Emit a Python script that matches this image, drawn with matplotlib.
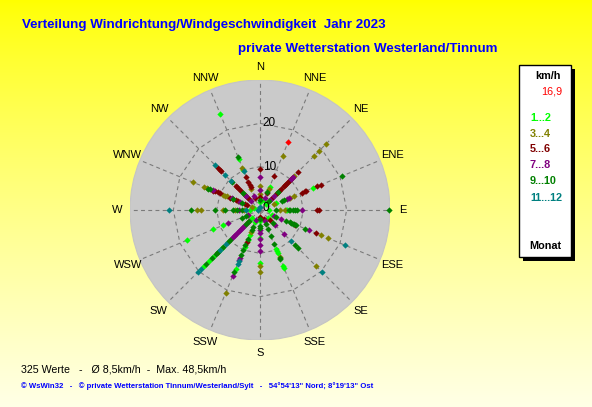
import numpy as np
import matplotlib
matplotlib.use("Agg")
import matplotlib.pyplot as plt
from matplotlib.patches import Circle, Rectangle

# ---------------- data ----------------
directions = ['N', 'NNE', 'NE', 'ENE', 'E', 'ESE', 'SE', 'SSE',
              'S', 'SSW', 'SW', 'WSW', 'W', 'WNW', 'NW', 'NNW']
ring_values = [10, 20]
ring_labels = ['0', '10', '20']
month_groups = ['1...2', '3...4', '5...6', '7...8', '9...10', '11...12']
group_colors = ['#00FF00', '#808000', '#800000', '#800080', '#008000', '#008080']

# wind speeds (km/h) per direction, per month group
speeds_1_2 = {'N': [1.8], 'NNE': [5.8, 2.5], 'NE': [5.3, 2.0], 'ENE': [13.3, 4.0],
              'E': [6.3, 6.0, 2.0], 'ESE': [3.0], 'SE': [2.5],
              'SSE': [14.6, 14.1, 10.8, 10.3, 9.8], 'S': [12.2, 6.5, 2.5],
              'SSW': [14.7, 9.3, 7.5, 6.2, 3.0],
              'SW': [18.4, 16.6, 15.2, 13.6, 12.4, 2.5], 'WSW': [18.2, 11.7, 9.3],
              'W': [2.3], 'WNW': [1.5], 'NW': [5.3], 'NNW': [24.0, 12.8, 10.0]}
speeds_3_4 = {'N': [5.5, 3.7], 'NNE': [13.6, 5.2], 'NE': [21.6, 19.2, 17.6, 11.0, 8.0],
              'ENE': [8.5, 7.5, 3.5], 'E': [5.7, 4.5], 'ESE': [17.1, 15.2], 'SE': [18.3],
              'SSE': [11.8], 'S': [14.2, 13.0], 'SSW': [20.8, 5.5], 'SW': [14.1],
              'WSW': [3.0], 'W': [14.6, 13.6, 8.6, 5.8, 3.8],
              'WNW': [16.7, 14.0, 13.3, 9.2, 8.7, 8.3, 2.0], 'NW': [], 'NNW': [10.6, 5.2]}
speeds_5_6 = {'N': [9.4, 3.0], 'NNE': [8.4, 4.2],
              'NE': [12.5, 10.3, 9.8, 9.2, 8.7, 8.2, 7.7, 7.0, 6.3, 5.5, 4.0],
              'ENE': [15.2, 14.2, 11.6, 11.2, 10.5], 'E': [13.2, 13.5], 'ESE': [14.1, 8.8],
              'SE': [3.2], 'SSE': [2.2], 'S': [1.5], 'SSW': [8.0], 'SW': [4.0],
              'WSW': [], 'W': [],
              'WNW': [11.7, 11.2, 10.6, 10.0, 7.5, 6.8, 6.0, 5.5, 3.8, 3.2],
              'NW': [13.6, 13.1, 12.7, 7.9, 7.4, 6.8, 6.1, 5.0, 4.4, 3.6],
              'NNW': [8.2, 7.1, 6.3, 5.7, 2.9]}
speeds_7_8 = {'N': [7.7, 4.6], 'NNE': [3.1], 'NE': [10.8, 10.0, 4.5, 3.2], 'ENE': [6.8, 7.2],
              'E': [9.6], 'ESE': [12.3, 5.2, 3.5], 'SE': [7.8, 5.0], 'SSE': [2.8],
              'S': [9.5, 8.0, 6.8, 5.3, 4.5], 'SSW': [16.4, 12.6, 11.9, 2.5],
              'SW': [9.0, 8.5, 8.0, 7.5, 7.0, 6.5, 6.0, 5.5, 5.0], 'WSW': [7.9, 2.9],
              'W': [4.8], 'WNW': [11.8, 7.0, 5.0], 'NW': [4.6, 2.8], 'NNW': [3.5]}
speeds_9_10 = {'N': [2.2], 'NNE': [4.5], 'NE': [6.0, 3.0], 'ENE': [20.5, 6.0, 5.6],
               'E': [29.8, 8.5, 8.0, 7.5, 7.0, 6.6, 3.8],
               'ESE': [11.2, 9.1, 8.6, 8.3, 7.8, 7.4, 6.6, 4.0], 'SE': [12.5, 11.4, 4.3],
               'SSE': [12.3, 12.0, 8.6, 6.5, 4.8, 3.6], 'S': [4.2, 3.8, 2.0],
               'SSW': [15.5, 11.2, 10.0, 8.8, 7.3, 5.0, 4.2],
               'SW': [17.5, 15.8, 14.5, 13.8, 12.0, 10.4, 9.8, 4.5, 3.5], 'WSW': [4.6, 3.6],
               'W': [15.9, 10.3, 8.0, 6.2, 5.3, 4.2], 'WNW': [12.9, 12.4, 6.7, 4.5],
               'NW': [9.0, 5.5], 'NNW': [13.2]}
speeds_11_12 = {'N': [0.8], 'NNE': [], 'NE': [], 'ENE': [], 'E': [], 'ESE': [21.2],
                'SE': [20.1, 10.1], 'SSE': [], 'S': [], 'SSW': [13.5, 12.8],
                'SW': [20.3, 19.3, 13.0, 11.2], 'WSW': [], 'W': [21.0, 3.3, 0.5],
                'WNW': [], 'NW': [14.6, 11.3, 9.4], 'NNW': [9.8]}
current_direction = 'NNE'
current_speed = 16.9

title_text = 'Verteilung Windrichtung/Windgeschwindigkeit  Jahr 2023'
subtitle_text = 'private Wetterstation Westerland/Tinnum'
stats_text = '325 Werte   -   Ø 8,5km/h  -  Max. 48,5km/h'
footer_text = ('© WsWin32   -   © private Wetterstation Tinnum/Westerland/Sylt   -   '
               '54°54\'13" Nord; 8°19\'13" Ost')

all_groups = [speeds_1_2, speeds_3_4, speeds_5_6, speeds_7_8, speeds_9_10, speeds_11_12]

# ---------------- figure ----------------
W, H = 592, 407
fig = plt.figure(figsize=(W / 100, H / 100), dpi=100)
plt.rcParams['font.family'] = ['Liberation Sans', 'DejaVu Sans']

# background gradient (pixel coordinates)
bg = fig.add_axes([0, 0, 1, 1])
t = np.linspace(0, 1, 256)[:, None]
blue = 0 + 230 * t ** 0.8
grad = np.dstack([np.ones_like(t) * 255, np.ones_like(t) * 255, blue]) / 255.0
bg.imshow(grad, aspect='auto', extent=[0, W, H, 0], interpolation='bilinear')
bg.set_xlim(0, W)
bg.set_ylim(H, 0)
bg.axis('off')

blue_c = '#0000FF'
bg.text(22, 25, title_text, color=blue_c, fontsize=9.6, fontweight='bold', va='center', ha='left')
bg.text(238, 49, subtitle_text, color=blue_c, fontsize=9.6, fontweight='bold', va='center', ha='left')
bg.text(21, 369, stats_text, color='black', fontsize=7.7, va='center', ha='left')
bg.text(21, 386, footer_text, color=blue_c, fontsize=5.6, fontweight='bold', va='center', ha='left')

# legend box
bg.add_patch(Rectangle((523, 69), 52, 192, facecolor='black', edgecolor='none'))
bg.add_patch(Rectangle((519, 65), 52, 192, facecolor='white', edgecolor='black', lw=1))
bg.text(548, 76, 'km/h', color='black', fontsize=7.8, fontweight='bold', ha='center', va='center')
bg.text(562, 92, f'{current_speed:.1f}'.replace('.', ','), color='#FF0000', fontsize=7.8,
        ha='right', va='center')
leg_y = [118, 134, 149, 165, 181, 198]
for lbl, col, yy in zip(month_groups, group_colors, leg_y):
    bg.text(530, yy, lbl, color=col, fontsize=7.8, fontweight='bold', ha='left', va='center')
bg.text(545, 246, 'Monat', color='black', fontsize=7.8, fontweight='bold', ha='center', va='center')

# ---------------- wind rose ----------------
cx, cy, rpx = 260, 210, 130
ax = fig.add_axes([(cx - rpx) / W, (H - cy - rpx) / H, 2 * rpx / W, 2 * rpx / H])
rmax = 30
ax.set_xlim(-rmax, rmax)
ax.set_ylim(-rmax, rmax)
ax.axis('off')

ang = np.deg2rad(np.arange(16) * 22.5)
ax.add_patch(Circle((0, 0), rmax, facecolor='#CACACA', edgecolor='#C4C4C4', lw=0.8, zorder=0))
grid_kw = dict(color='#7A7A7A', lw=0.8, ls=(0, (3.5, 3)), zorder=1)
for a in ang:
    ax.plot([0, 29.3 * np.sin(a)], [0, 29.3 * np.cos(a)], **grid_kw)
for rv in ring_values:
    aa = np.append(ang, ang[0])
    ax.plot(rv * np.sin(aa), rv * np.cos(aa), **grid_kw)

for lbl, a in zip(directions, ang):
    ax.text(33 * np.sin(a), 33 * np.cos(a), lbl, fontsize=8, ha='center', va='center',
            color='black', clip_on=False)
for lbl, rv in zip(ring_labels, [0.5, 9.9, 20.0]):
    ax.text(0.6, rv, lbl, fontsize=8.5, ha='left', va='center', color='black', zorder=5)

dir_angle = dict(zip(directions, ang))
for grp, col in zip(all_groups, group_colors):
    xs, ys = [], []
    for d in directions:
        for s in grp.get(d, []):
            xs.append(s * np.sin(dir_angle[d]))
            ys.append(s * np.cos(dir_angle[d]))
    ax.plot(xs, ys, ls='none', marker='D', ms=3.2, mew=0, color=col, zorder=3, clip_on=False)

ax.plot([current_speed * np.sin(dir_angle[current_direction])],
        [current_speed * np.cos(dir_angle[current_direction])],
        ls='none', marker='D', ms=3.2, mew=0, color='#FF0000', zorder=4)

fig.savefig('out.png', dpi=100)
